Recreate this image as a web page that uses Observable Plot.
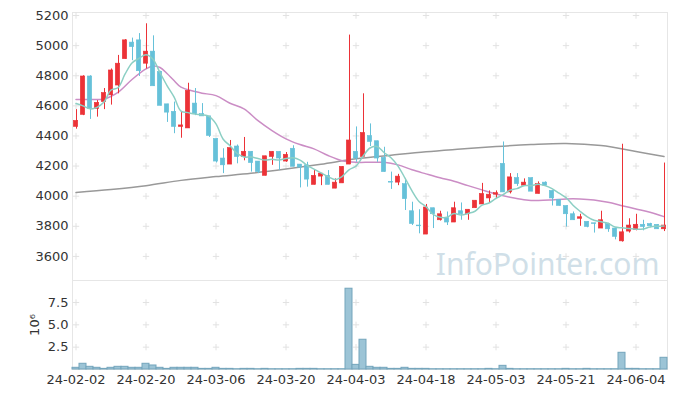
<!DOCTYPE html>
<html><head><meta charset="utf-8">
<script src="https://cdn.jsdelivr.net/npm/d3@7"></script>
<script src="https://cdn.jsdelivr.net/npm/@observablehq/plot@0.6"></script>
<style>
body{margin:0;background:#fff;}
#wrap{position:relative;width:677px;height:398px;overflow:hidden;font-family:"DejaVu Sans",sans-serif;}
#top,#bot{position:absolute;left:0;}
#top{top:0}
#bot{top:279px}
</style></head><body><div id="wrap"><div id="top"></div><div id="bot"></div></div>
<script>
const dates = ["24-02-02","24-02-05","24-02-06","24-02-07","24-02-08","24-02-13","24-02-14","24-02-15","24-02-16","24-02-19",
"24-02-20","24-02-21","24-02-22","24-02-23","24-02-26","24-02-27","24-02-28","24-02-29","24-03-04","24-03-05",
"24-03-06","24-03-07","24-03-08","24-03-11","24-03-12","24-03-13","24-03-14","24-03-15","24-03-18","24-03-19",
"24-03-20","24-03-21","24-03-22","24-03-25","24-03-26","24-03-27","24-03-28","24-03-29","24-04-01","24-04-02",
"24-04-03","24-04-04","24-04-05","24-04-08","24-04-09","24-04-11","24-04-12","24-04-15","24-04-16","24-04-17",
"24-04-18","24-04-19","24-04-22","24-04-23","24-04-24","24-04-25","24-04-26","24-04-29","24-04-30","24-05-02",
"24-05-03","24-05-07","24-05-08","24-05-09","24-05-10","24-05-13","24-05-14","24-05-16","24-05-17","24-05-20",
"24-05-21","24-05-22","24-05-23","24-05-24","24-05-27","24-05-28","24-05-29","24-05-30","24-05-31","24-06-03",
"24-06-04","24-06-05","24-06-07","24-06-10","24-06-11"];

const open = [4460,4540,4795,4580,4625,4670,4735,4910,5020,5035, 4880,4960,4825,4610,4560,4460,4450,4615,4545,4530,
4380,4250,4210,4330,4260,4295,4230,4135,4260,4295, 4230,4315,4210,4205,4075,4130,4135,4050,4085,4210,
4295,4260,4400,4365,4255,4095,4090,4080,3900,3805, 3745,3920,3840,3855,3825,3900,3880,3920,3945,3985,
4010,4215,4025,4120,4070,4120,4015,4090,4035,3975, 3935,3880,3850,3830,3820,3785,3815,3785,3700,3765,
3775,3810,3815,3810,3780];

const high = [4575,4800,4800,4635,4715,4845,4935,5040,5050,5080, 5145,5065,4830,4610,4625,4555,4750,4715,4615,4530,
4380,4315,4370,4340,4390,4295,4230,4265,4295,4295, 4290,4335,4210,4225,4170,4150,4170,4115,4195,5070,
4460,4680,4480,4365,4325,4160,4145,4115,3960,3910, 3945,3920,3900,3895,3960,3955,3910,3970,4085,4035,
4035,4360,4150,4150,4115,4120,4095,4095,4035,3975, 3935,3895,3880,3830,3820,3900,3820,3785,4345,3850,
3880,3840,3820,3810,4220];

const low = [4445,4535,4510,4525,4575,4605,4680,4910,4900,4795, 4845,4730,4600,4490,4415,4385,4450,4535,4530,4390,
4220,4150,4210,4215,4235,4160,4150,4135,4205,4170, 4225,4195,4055,4060,4075,4070,4075,4050,4085,4210,
4225,4260,4330,4225,4160,4045,4070,3905,3805,3750, 3745,3785,3835,3805,3825,3840,3840,3920,3945,3955,
3985,4025,4015,4065,4065,4030,4015,4065,3935,3935, 3795,3840,3800,3790,3755,3785,3760,3710,3695,3755,
3770,3770,3790,3780,3765];

const close = [4500,4795,4580,4620,4685,4835,4880,5035,4990,4830, 4960,4730,4600,4555,4460,4470,4700,4545,4530,4400,
4230,4205,4320,4260,4295,4220,4160,4265,4295,4250, 4275,4195,4190,4110,4135,4150,4075,4090,4195,4370,
4250,4420,4360,4250,4160,4090,4130,3980,3815,3800, 3925,3880,3880,3825,3920,3880,3910,3970,4015,4010,
4020,4025,4125,4080,4090,4030,4080,4070,3985,3935, 3880,3840,3860,3795,3815,3840,3780,3730,3760,3805,
3810,3795,3800,3780,3805];

const volume = [190000,640000,300000,190000,70000,190000,300000,300000,190000,190000,
640000,450000,190000,70000,190000,190000,190000,190000,70000,70000,
190000,70000,70000,30000,70000,70000,30000,70000,30000,30000,
30000,30000,70000,70000,70000,30000,30000,30000,30000,9040000,
520000,3330000,300000,190000,190000,70000,70000,190000,70000,70000,
70000,30000,30000,30000,30000,30000,30000,30000,30000,70000,
30000,410000,70000,30000,30000,30000,30000,30000,30000,30000,
70000,30000,30000,70000,30000,30000,30000,30000,1870000,70000,
70000,30000,30000,30000,1310000];

// 5-day moving average (teal)
const ma5 = [4615,4600,4580,4590,4625,4705,4720,4810,4885,4915, 4940,4910,4820,4735,4660,4565,4555,4545,4540,4530,
4480,4380,4335,4285,4260,4260,4250,4240,4245,4240, 4250,4255,4240,4205,4180,4155,4130,4110,4130,4175,
4200,4265,4320,4330,4290,4255,4200,4120,4035,3965, 3930,3880,3860,3860,3885,3875,3885,3900,3940,3955,
3985,4010,4040,4050,4070,4070,4080,4070,4050,4020, 3990,3940,3900,3865,3840,3830,3820,3795,3790,3785,
3780,3782,3795,3800,3802];

// 20-day moving average (purple), sampled
const ma20Day = [0,2,4,6,8,10,11,12,13,14,15,17,18,20,22,24,26,28,30,32,34,36,38,40,42,44,46,48,50,52,54,56,58,60,62,64,66,68,70,72,74,76,78,80,82,84];
const ma20 = [4642,4642,4646,4690,4775,4845,4865,4855,4815,4768,4724,4695,4684,4668,4617,4580,4502,4436,4381,4343,4314,4270,4236,4225,4225,4225,4208,4175,4148,4122,4099,4070,4042,4015,3993,3977,3971,3975,3982,3982,3975,3959,3937,3915,3893,3864];

// long moving average (gray), sampled
const maLongDay = [0,5,10,15,20,25,30,35,40,45,50,55,60,65,70,75,80,84];
const maLong = [4025,4045,4070,4105,4130,4152,4180,4212,4248,4272,4295,4313,4330,4343,4350,4336,4297,4263];

const xTicks = ["24-02-02","24-02-20","24-03-06","24-03-20","24-04-03","24-04-18","24-05-03","24-05-21","24-06-04"];
const priceTicks = [3600,3800,4000,4200,4400,4600,4800,5000,5200];
const volTicks = [2500000,5000000,7500000];
const watermark = "InfoPointer.com";
const volLabel = "10\u2076";

const RED = "#ec3237", BLUE = "#66c1d9";
const rows = dates.map((d, i) => ({date: d, open: open[i], high: high[i], low: low[i], close: close[i],
  volume: volume[i], ma5: ma5[i], color: close[i] >= open[i] ? RED : BLUE}));
const ma20Rows = ma20Day.map((k, j) => ({date: dates[k], v: ma20[j]}));
const maLongRows = maLongDay.map((k, j) => ({date: dates[k], v: maLong[j]}));
const cross = (xs, ys) => xs.flatMap(x => ys.map(y => ({x, y})));

const baseStyle = {fontFamily: "DejaVu Sans", fontSize: "13px", color: "#333", background: "transparent", overflow: "visible"};

const topChart = Plot.plot({
  width: 677, height: 281, marginLeft: 72, marginRight: 10, marginTop: 12, marginBottom: 1,
  style: baseStyle,
  x: {type: "band", domain: dates, padding: 0, axis: null},
  y: {domain: [3440, 5220], ticks: priceTicks, tickSize: 0, tickPadding: 4, tickFormat: d => String(d), label: null},
  marks: [
    Plot.frame({stroke: "#e6e6e6"}),
    Plot.dot(cross(xTicks, priceTicks), {x: "x", y: "y", symbol: "plus", r: 2.2, stroke: "#e2e2e2", strokeWidth: 1}),
    Plot.text([watermark], {frameAnchor: "bottom-right", dx: -8, dy: -6, fontSize: 30, fill: "#d0dfe8", fontFamily: "Noto Sans"}),
    Plot.line(maLongRows, {x: "date", y: "v", stroke: "#999999", strokeWidth: 1.5, curve: "catmull-rom"}),
    Plot.line(ma20Rows, {x: "date", y: "v", stroke: "#cb8dc5", strokeWidth: 1.5, curve: "catmull-rom"}),
    Plot.ruleX(rows, {x: "date", y1: "low", y2: "high", stroke: "color", strokeWidth: 1, dx: 0.5}),
    Plot.barY(rows, {x: "date", y1: "open", y2: "close", fill: "color", stroke: "color", strokeWidth: 0.6, insetLeft: 1.3, insetRight: 1.3}),
    Plot.line(rows, {x: "date", y: "ma5", stroke: "#8ccfc4", strokeWidth: 1.5, curve: "catmull-rom"})
  ]
});
document.getElementById("top").appendChild(topChart);

const botChart = Plot.plot({
  width: 677, height: 119, marginLeft: 72, marginRight: 10, marginTop: 1, marginBottom: 29,
  style: baseStyle,
  x: {type: "band", domain: dates, padding: 0, ticks: xTicks, tickSize: 0, tickPadding: 5, label: null},
  y: {domain: [0, 9960000], ticks: volTicks, tickSize: 0, tickPadding: 4, tickFormat: d => (d / 1e6).toFixed(1), label: null},
  marks: [
    Plot.frame({stroke: "#e6e6e6"}),
    Plot.dot(cross(xTicks, volTicks), {x: "x", y: "y", symbol: "plus", r: 2.2, stroke: "#e2e2e2", strokeWidth: 1}),
    Plot.barY(rows, {x: "date", y: "volume", fill: "#9cc4d6", stroke: "#74a5bc", strokeWidth: 1}),
    Plot.text([volLabel], {frameAnchor: "left", dx: -38, rotate: -90, textAnchor: "middle", lineAnchor: "middle", fontSize: 13, fill: "#333"})
  ]
});
document.getElementById("bot").appendChild(botChart);
</script>
</body></html>
